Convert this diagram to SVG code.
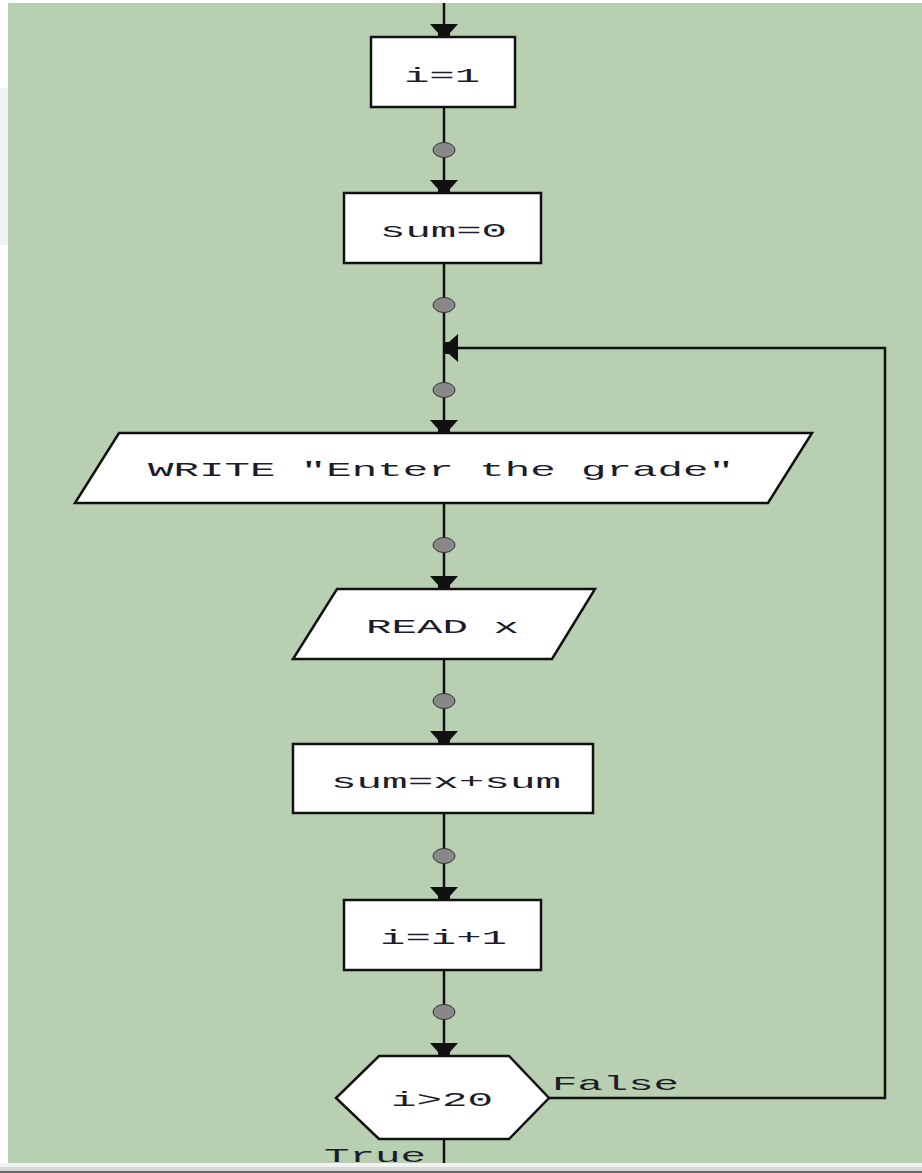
<svg xmlns="http://www.w3.org/2000/svg" xmlns:xlink="http://www.w3.org/1999/xlink" width="922" height="1173" viewBox="0 0 922 1173">
<style>
.shape{fill:#ffffff;stroke:#111111;stroke-width:2.5;stroke-linejoin:miter}
.line{fill:none;stroke:#111111;stroke-width:2.5}
.lbl{font-family:"Liberation Mono","Courier New",monospace;font-size:21px;fill:#1c1c2c}
.dot{fill:#888888;stroke:#333333;stroke-width:1}
.arr{fill:#111111}
</style>
<defs>
<polygon id="ah" points="-14,-13 14,-13 6,-4 6,0 -6,0 -6,-4"/>
</defs>
<rect x="0" y="0" width="922" height="1173" fill="#ffffff"/>
<rect x="0" y="88" width="8" height="157" fill="#eef3f6"/>
<rect x="8" y="3" width="914" height="1160" fill="#b8cfb2"/>
<rect x="0" y="1163" width="922" height="4" fill="#f2f2f2"/>
<rect x="0" y="1167" width="922" height="4" fill="#d6d6d6"/>
<rect x="0" y="1171" width="922" height="2" fill="#666666"/>

<g id="connectors">
<path class="line" d="M444,3V37 M444,107V193 M444,263V433 M444,503V589 M444,659V744 M444,813V900 M444,970V1056 M444,1139V1163"/>
<polyline class="line" points="549,1098 885,1098 885,348 444,348"/>
<ellipse class="dot" cx="444" cy="150" rx="11" ry="7.5"/>
<ellipse class="dot" cx="444" cy="305" rx="11" ry="7.5"/>
<ellipse class="dot" cx="444" cy="390" rx="11" ry="7.5"/>
<ellipse class="dot" cx="444" cy="545" rx="11" ry="7.5"/>
<ellipse class="dot" cx="444" cy="701" rx="11" ry="7.5"/>
<ellipse class="dot" cx="444" cy="856" rx="11" ry="7.5"/>
<ellipse class="dot" cx="444" cy="1012" rx="11" ry="7.5"/>
<use xlink:href="#ah" class="arr" transform="translate(444,37)"/>
<use xlink:href="#ah" class="arr" transform="translate(444,193)"/>
<use xlink:href="#ah" class="arr" transform="translate(444,433)"/>
<use xlink:href="#ah" class="arr" transform="translate(444,589)"/>
<use xlink:href="#ah" class="arr" transform="translate(444,744)"/>
<use xlink:href="#ah" class="arr" transform="translate(444,900)"/>
<use xlink:href="#ah" class="arr" transform="translate(444,1056)"/>
<use xlink:href="#ah" class="arr" transform="translate(445,348) rotate(90)"/>
<text class="lbl" x="552" y="1090" textLength="127" lengthAdjust="spacingAndGlyphs">False</text>
<text class="lbl" x="324" y="1162" textLength="102" lengthAdjust="spacingAndGlyphs">True</text>
</g>

<g id="node-i1">
<rect class="shape" x="371" y="37" width="144" height="70"/>
<text class="lbl" x="404" y="82" textLength="76" lengthAdjust="spacingAndGlyphs">i=1</text>
</g>
<g id="node-sum0">
<rect class="shape" x="344" y="193" width="197" height="70"/>
<text class="lbl" x="380" y="237" textLength="127" lengthAdjust="spacingAndGlyphs">sum=0</text>
</g>
<g id="node-write">
<polygon class="shape" points="119,433 812,433 768,503 75,503"/>
<text class="lbl" x="148" y="476" textLength="586" lengthAdjust="spacingAndGlyphs">WRITE "Enter the grade"</text>
</g>
<g id="node-read">
<polygon class="shape" points="337,589 595,589 552,659 293,659"/>
<text class="lbl" x="366" y="633" textLength="153" lengthAdjust="spacingAndGlyphs">READ x</text>
</g>
<g id="node-sumx">
<rect class="shape" x="293" y="744" width="300" height="69"/>
<text class="lbl" x="331" y="788" textLength="230" lengthAdjust="spacingAndGlyphs">sum=x+sum</text>
</g>
<g id="node-inc">
<rect class="shape" x="344" y="900" width="197" height="70"/>
<text class="lbl" x="380" y="944" textLength="127" lengthAdjust="spacingAndGlyphs">i=i+1</text>
</g>
<g id="node-cond">
<polygon class="shape" points="379,1056 509,1056 549,1098 509,1139 379,1139 336,1098"/>
<text class="lbl" x="391" y="1106" textLength="102" lengthAdjust="spacingAndGlyphs">i&gt;20</text>
</g>
</svg>
